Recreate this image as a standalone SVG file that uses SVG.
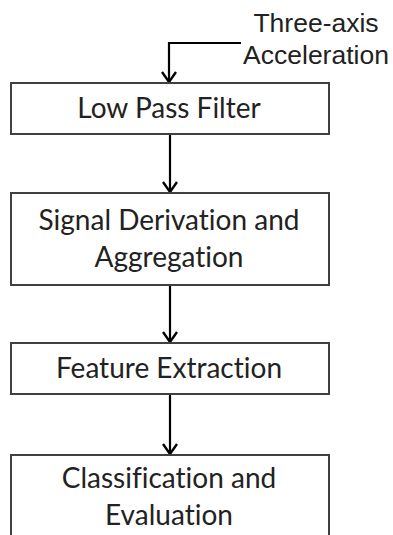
<svg xmlns="http://www.w3.org/2000/svg" width="393" height="535" viewBox="0 0 393 535">
<defs>
<marker id="arr" viewBox="0 0 12 16" refX="11" refY="8" markerWidth="12" markerHeight="16" markerUnits="userSpaceOnUse" orient="auto">
<path d="M1,1 L11,8 L1,15" fill="none" stroke="#000" stroke-width="2.4"/>
</marker>
<style>
.box{fill:#fff;stroke:#404040;stroke-width:2}
.lbl{font-family:Lato,"Open Sans","Liberation Sans",sans-serif;font-size:28px;fill:#222;text-anchor:middle;font-variant-ligatures:none}
.in{font-family:"Liberation Sans",Arial,sans-serif;font-size:26.5px;fill:#222;text-anchor:middle}
.con{fill:none;stroke:#000;stroke-width:2.2}
</style>
</defs>
<rect width="393" height="535" fill="#fff"/>
<g id="connectors">
<path class="con" d="M241,43 H169 V82" marker-end="url(#arr)"/>
<path class="con" d="M170,134 V192" marker-end="url(#arr)"/>
<path class="con" d="M170,285 V342" marker-end="url(#arr)"/>
<path class="con" d="M170,394 V454" marker-end="url(#arr)"/>
</g>
<g id="input">
<text class="in" x="316" y="32">Three-axis</text>
<text class="in" x="316" y="64">Acceleration</text>
</g>
<g id="lowpass">
<rect class="box" x="11" y="83" width="318" height="51"/>
<text class="lbl" x="169" y="118">Low Pass Filter</text>
</g>
<g id="derivation">
<rect class="box" x="11" y="193" width="318" height="92"/>
<text class="lbl" x="169" y="230">Signal Derivation and</text>
<text class="lbl" x="169" y="267">Aggregation</text>
</g>
<g id="features">
<rect class="box" x="11" y="343" width="318" height="51"/>
<text class="lbl" x="169" y="378">Feature Extraction</text>
</g>
<g id="classification">
<rect class="box" x="11" y="455" width="318" height="100"/>
<text class="lbl" x="169" y="488">Classification and</text>
<text class="lbl" x="169" y="525">Evaluation</text>
</g>
</svg>
